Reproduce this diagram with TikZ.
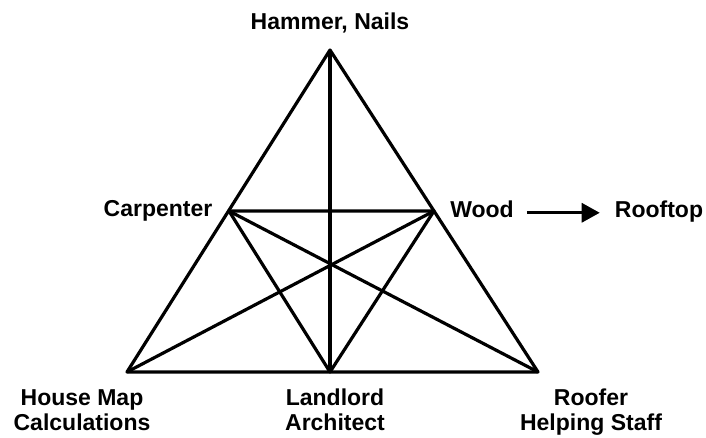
\documentclass[tikz,border=0pt]{standalone}
\usepackage{fontspec}
\setmainfont{Liberation Sans}
\usetikzlibrary{arrows.meta,positioning}

\begin{document}
\begin{tikzpicture}[
    x=1pt, y=-1pt,
    edge/.style={line width=3.2pt, line join=round},
    label/.style={font=\bfseries\fontsize{23}{25}\selectfont, align=center, inner sep=0pt},
    arrow/.style={-{Triangle[length=18pt,width=19pt]}, line width=3.2pt}
]
\useasboundingbox (0,0) rectangle (706,438);

% corners and midpoints
\coordinate (top) at (330,50);
\coordinate (bl) at (127,372);
\coordinate (br) at (538,372);
\coordinate (ml) at (229,211);
\coordinate (mr) at (434,211);
\coordinate (mb) at (330,372);

% triangle
\draw[edge] (top) -- (bl) -- (br) -- cycle;
\draw[edge] (ml) -- (mr) -- (mb) -- cycle;
\draw[edge] (top) -- (mb);
\draw[edge] (bl) -- (mr);
\draw[edge] (br) -- (ml);

% labels
\node[label, anchor=base] (hammer) at (330,30) {Hammer, Nails};
\node[label, anchor=base] (carpenter) at (158,217) {Carpenter};
\node[label, anchor=base] (wood) at (482,218) {Wood};
\node[label, anchor=base] (rooftop) at (659,218) {Rooftop};
\node[label, anchor=north] (housemap) at (82,389) {House Map\\Calculations};
\node[label, anchor=north] (landlord) at (335,389) {Landlord\\Architect};
\node[label, anchor=north] (roofer) at (591,389) {Roofer\\Helping Staff};

\draw[arrow] ([xshift=13pt,yshift=-3pt]wood.east) -- ([xshift=-15pt,yshift=-3pt]wood.east -| rooftop.west);

\end{tikzpicture}
\end{document}
